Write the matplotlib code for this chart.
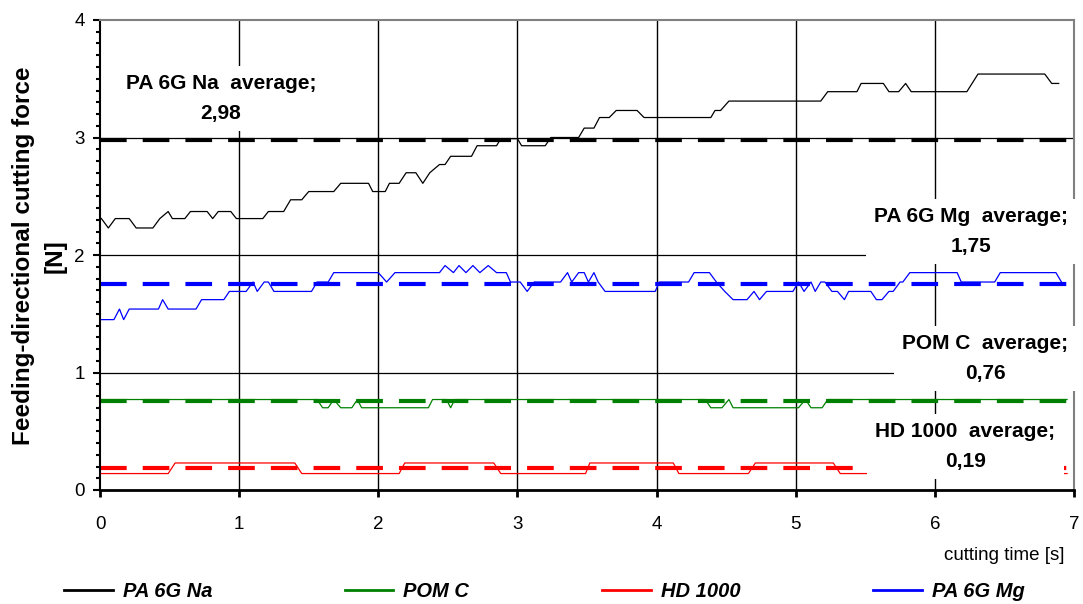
import matplotlib
matplotlib.use('Agg')
import matplotlib.pyplot as plt
from matplotlib.lines import Line2D
from matplotlib.ticker import MultipleLocator

plt.rcParams['font.family'] = ['Liberation Sans', 'DejaVu Sans']

# series (time [s], force [N])
names = ['PA 6G Na', 'POM C', 'HD 1000', 'PA 6G Mg']
colors = ['black', '#008000', '#ff0000', '#0000ff']
averages = [2.98, 0.76, 0.19, 1.75]

na_t = [0.01, 0.06, 0.11, 0.21, 0.26, 0.38, 0.43, 0.49, 0.52, 0.61, 0.65, 0.77, 0.81, 0.85,
        0.94, 0.98, 1.17, 1.21, 1.32, 1.37, 1.45, 1.50, 1.68, 1.73, 1.93, 1.96, 2.05, 2.08,
        2.15, 2.20, 2.27, 2.32, 2.37, 2.44, 2.48, 2.52, 2.67, 2.71, 2.85, 2.88, 3.00, 3.03,
        3.20, 3.24, 3.44, 3.48, 3.55, 3.59, 3.66, 3.71, 3.86, 3.91, 4.39, 4.42, 4.46, 4.52,
        5.18, 5.23, 5.44, 5.47, 5.63, 5.67, 5.74, 5.79, 5.83, 6.23, 6.31, 6.79, 6.84, 6.89]
na_f = [2.31, 2.23, 2.31, 2.31, 2.23, 2.23, 2.31, 2.37, 2.31, 2.31, 2.37, 2.37, 2.31, 2.37,
        2.37, 2.31, 2.31, 2.37, 2.37, 2.47, 2.47, 2.54, 2.54, 2.61, 2.61, 2.54, 2.54, 2.61,
        2.61, 2.70, 2.70, 2.61, 2.70, 2.77, 2.77, 2.84, 2.84, 2.93, 2.93, 2.99, 2.99, 2.93,
        2.93, 3.00, 3.00, 3.08, 3.08, 3.17, 3.17, 3.23, 3.23, 3.17, 3.17, 3.23, 3.23, 3.31,
        3.31, 3.39, 3.39, 3.46, 3.46, 3.39, 3.39, 3.46, 3.39, 3.39, 3.54, 3.54, 3.46, 3.46]

pom_t = [0.01, 1.56, 1.60, 1.64, 1.68, 1.73, 1.81, 1.85, 1.88, 2.36, 2.39, 2.49, 2.52, 2.55,
         4.35, 4.39, 4.47, 4.52, 4.55, 5.02, 5.07, 5.11, 5.19, 5.23, 6.95]
pom_f = [0.77, 0.77, 0.70, 0.70, 0.77, 0.70, 0.70, 0.77, 0.70, 0.70, 0.77, 0.77, 0.70, 0.77,
         0.77, 0.70, 0.70, 0.77, 0.70, 0.70, 0.77, 0.70, 0.70, 0.77, 0.77]

hd_t = [0.01, 0.49, 0.54, 1.40, 1.45, 2.15, 2.19, 2.83, 2.88, 3.49, 3.52, 4.12, 4.16, 4.66,
        4.71, 5.27, 5.32, 6.95]
hd_f = [0.14, 0.14, 0.23, 0.23, 0.14, 0.14, 0.23, 0.23, 0.14, 0.14, 0.23, 0.23, 0.14, 0.14,
        0.23, 0.23, 0.14, 0.14]

mg_t = [0.01, 0.10, 0.14, 0.17, 0.21, 0.42, 0.45, 0.49, 0.69, 0.73, 0.89, 0.93, 1.05, 1.10,
        1.13, 1.18, 1.21, 1.25, 1.52, 1.56, 1.64, 1.68, 2.00, 2.06, 2.12, 2.44, 2.48, 2.54,
        2.58, 2.63, 2.68, 2.73, 2.79, 2.85, 2.92, 2.95, 3.02, 3.07, 3.12, 3.31, 3.36, 3.39,
        3.44, 3.48, 3.51, 3.55, 3.58, 3.63, 3.99, 4.02, 4.23, 4.27, 4.38, 4.43, 4.49, 4.55,
        4.65, 4.70, 4.74, 4.79, 4.98, 5.02, 5.06, 5.11, 5.14, 5.18, 5.21, 5.26, 5.30, 5.35,
        5.38, 5.54, 5.58, 5.62, 5.67, 5.70, 5.75, 5.77, 5.82, 6.16, 6.19, 6.43, 6.47, 6.87,
        6.91]
mg_f = [1.45, 1.45, 1.54, 1.45, 1.54, 1.54, 1.62, 1.54, 1.54, 1.62, 1.62, 1.69, 1.69, 1.77,
        1.69, 1.77, 1.77, 1.69, 1.69, 1.77, 1.77, 1.85, 1.85, 1.77, 1.85, 1.85, 1.91, 1.85,
        1.91, 1.85, 1.91, 1.85, 1.91, 1.85, 1.85, 1.77, 1.77, 1.69, 1.77, 1.77, 1.85, 1.77,
        1.85, 1.85, 1.77, 1.85, 1.77, 1.69, 1.69, 1.77, 1.77, 1.85, 1.85, 1.77, 1.69, 1.62,
        1.62, 1.69, 1.62, 1.69, 1.69, 1.77, 1.69, 1.77, 1.69, 1.77, 1.77, 1.69, 1.69, 1.62,
        1.69, 1.69, 1.62, 1.62, 1.69, 1.69, 1.77, 1.77, 1.85, 1.85, 1.77, 1.77, 1.85, 1.85,
        1.77]

times = [na_t, pom_t, hd_t, mg_t]
forces = [na_f, pom_f, hd_f, mg_f]

# where the "average" labels sit (data coords)
label_pos = [(0.87, 3.33), (6.36, 1.12), (6.22, 0.37), (6.26, 2.20)]

fig = plt.figure(figsize=(10.83, 6.04), dpi=100)
ax = fig.add_axes([100 / 1083, 1 - 490 / 604, 974 / 1083, 470 / 604])

for y in [1, 2, 3]:
    ax.axhline(y, color='black', lw=0.9, zorder=1)
for x in range(1, 7):
    ax.axvline(x, color='black', lw=1.0, zorder=1)

for avg, c in zip(averages, colors):
    ax.axhline(avg, color=c, lw=3, linestyle=(0, (6.4, 3.85)), zorder=2)

for t, f, c in zip(times, forces, colors):
    ax.plot(t, f, color=c, lw=0.9, zorder=3)

for name, avg, pos in zip(names, averages, label_pos):
    txt = f'{name}  average;\n{avg:.2f}'.replace('.', ',')
    ax.text(pos[0], pos[1], txt, ha='center', va='center', fontsize=15, fontweight='bold',
            linespacing=1.7, zorder=6, clip_on=False,
            bbox=dict(facecolor='white', edgecolor='none', boxstyle='square,pad=0.4'))

ax.set_xlim(0, 7)
ax.set_ylim(0, 4)
ax.set_xticks(range(0, 8))
ax.set_yticks(range(0, 5))
ax.yaxis.set_minor_locator(MultipleLocator(0.1))
ax.tick_params(axis='y', which='major', direction='out', length=5, width=1.5, labelsize=13.5, pad=6)
ax.tick_params(axis='y', which='minor', direction='out', length=3, width=1.5)
ax.tick_params(axis='x', which='major', direction='out', length=5, width=2, labelsize=13.5, pad=14)

ax.spines['left'].set_linewidth(1.5)
ax.spines['bottom'].set_linewidth(2)
for s in ['top', 'right']:
    ax.spines[s].set_color('#808080')
    ax.spines[s].set_linewidth(1.5)

fig.text(0.0365, 0.576, 'Feeding-directional cutting force\n[N]', rotation=90, ha='center',
         va='center', fontsize=17.5, fontweight='bold', linespacing=1.5, multialignment='center')
fig.text(0.983, 0.081, 'cutting time [s]', ha='right', va='center', fontsize=13.5)

handles = [Line2D([0], [0], color=c, lw=2) for c in colors]
fig.legend(handles, names, loc='center left', bbox_to_anchor=(0.05, 0.02), ncol=4,
           frameon=False, handlelength=2.4, handletextpad=0.5, columnspacing=6.6,
           borderpad=0, prop=dict(weight='bold', style='italic', size=14.5))

fig.savefig('out.png', dpi=100)
